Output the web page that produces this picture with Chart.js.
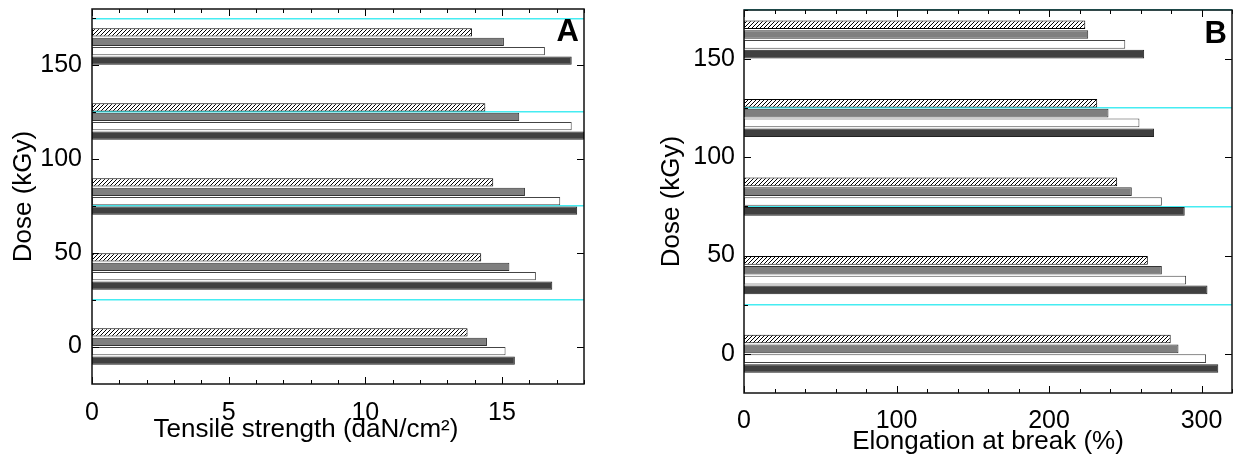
<!DOCTYPE html>
<html>
<head>
<meta charset="utf-8">
<script src="https://cdn.jsdelivr.net/npm/chart.js@4.4.1/dist/chart.umd.min.js"></script>
<style>
  html, body { margin: 0; padding: 0; background: #fff; }
  #wrap { position: relative; width: 1233px; height: 457px; overflow: hidden; }
  canvas { position: absolute; top: 0; }
  #chartA { left: 0; }
  #chartB { left: 616px; }
</style>
</head>
<body>
<div id="wrap">
  <canvas id="chartA" width="616" height="457"></canvas>
  <canvas id="chartB" width="617" height="457"></canvas>
</div>
<script>
// ── Data ─────────────────────────────────────────────
const doses = [0, 40, 80, 120, 160];          // kGy
const doseTicks = [0, 50, 100, 150];          // labelled y ticks
const lineTicks = [25, 75, 125, 175];         // cyan lines

const seriesNames = ['Series 1', 'Series 2', 'Series 3', 'Series 4'];

// tensile strength (daN/cm2), one value per dose
const tensileHatched = [13.74, 14.24, 14.68, 14.39, 13.90];
const tensileGray    = [14.45, 15.27, 15.84, 15.63, 15.07];
const tensileWhite   = [15.13, 16.24, 17.13, 17.55, 16.57];
const tensileDark    = [15.47, 16.84, 17.75, 18.00, 17.55];

// elongation at break (%)
const elongHatched = [279.8, 264.8, 244.7, 231.6, 223.8];
const elongGray    = [284.9, 274.0, 254.3, 239.0, 225.7];
const elongWhite   = [303.0, 289.9, 274.0, 259.3, 250.0];
const elongDark    = [311.0, 303.9, 289.0, 268.9, 262.4];

const FONT = 'Arial, "Liberation Sans", sans-serif';

// ── Hatch pattern ────────────────────────────────────
function hatch() {
    const c = document.createElement('canvas');
    c.width = 4; c.height = 4;
    const g = c.getContext('2d');
    g.fillStyle = '#fff';
    g.fillRect(0, 0, 4, 4);
    g.strokeStyle = '#000';
    g.lineWidth = 1;
    g.beginPath();
    g.moveTo(0, 4); g.lineTo(4, 0);
    g.moveTo(-1, 1); g.lineTo(1, -1);
    g.moveTo(3, 5); g.lineTo(5, 3);
    g.stroke();
    return g.createPattern(c, 'repeat');
}

// ── Frame, inner ticks, panel letter, x title ───────
const frameTicks = {
    id: 'frameTicks',
    afterDatasetsDraw(chart, args, opts) {
        const { ctx, chartArea: { left, right, top, bottom }, scales: { x, y } } = chart;
        ctx.save();
        ctx.strokeStyle = '#000';
        ctx.lineWidth = 1;
        ctx.beginPath();
        x.ticks.forEach(t => {
            const px = Math.round(x.getPixelForValue(t.value)) + 0.5;
            const len = t.value % opts.xMajor === 0 ? 7 : 4;
            ctx.moveTo(px, bottom); ctx.lineTo(px, bottom - len);
            ctx.moveTo(px, top); ctx.lineTo(px, top + len);
        });
        y.ticks.forEach(t => {
            const py = Math.round(y.getPixelForValue(t.value)) + 0.5;
            if (doseTicks.includes(t.value)) {
                ctx.moveTo(left, py); ctx.lineTo(left + 7, py);
                ctx.moveTo(right, py); ctx.lineTo(right - 7, py);
            } else {
                ctx.moveTo(left, py); ctx.lineTo(left + 4, py);
            }
        });
        ctx.stroke();
        ctx.lineWidth = 1.5;
        ctx.strokeStyle = '#111';
        ctx.strokeRect(left, top, right - left, bottom - top);
        ctx.fillStyle = '#000';
        ctx.font = 'bold 31px ' + FONT;
        ctx.textAlign = 'right';
        ctx.textBaseline = 'middle';
        ctx.fillText(opts.letter, right - 5, top + opts.letterDy);
        // x axis title (not centred on the plot in the original)
        ctx.font = opts.titleSize + 'px ' + FONT;
        ctx.textAlign = 'center';
        ctx.fillText(opts.title, (left + right) / 2 + opts.titleDx, chart.height - opts.titleDy);
        ctx.restore();
    }
};

// ── Build one panel ──────────────────────────────────
function buildPanel(id, cfg) {
    const ctx = document.getElementById(id);
    const styles = [
        { bg: hatch(), border: '#000' },
        { bg: '#7f7f7f', border: '#333' },
        { bg: '#ffffff', border: '#444' },
        { bg: '#404040', border: '#222' }
    ];
    return new Chart(ctx, {
        type: 'bar',
        data: {
            datasets: cfg.series.map((vals, i) => ({
                label: seriesNames[i],
                data: vals.map((v, j) => ({ x: v, y: doses[j] })),
                backgroundColor: styles[i].bg,
                borderColor: styles[i].border,
                borderWidth: 1,
                borderSkipped: false,
                categoryPercentage: 0.8,
                barPercentage: 0.88
            }))
        },
        options: {
            indexAxis: 'y',
            responsive: false,
            animation: false,
            layout: { padding: cfg.padding },
            plugins: {
                legend: { display: false },
                tooltip: { enabled: false },
                frameTicks: {
                    letter: cfg.letter, xMajor: cfg.xMajor, letterDy: cfg.letterDy,
                    title: cfg.xTitle, titleSize: cfg.xTitleSize, titleDx: cfg.xTitleDx, titleDy: cfg.xTitleDy
                }
            },
            scales: {
                x: {
                    type: 'linear',
                    min: 0, max: cfg.xMax,
                    grid: { display: false },
                    border: { display: false },
                    ticks: {
                        stepSize: cfg.xStep,
                        autoSkip: false,
                        maxRotation: 0,
                        padding: cfg.xTickPad,
                        color: '#000',
                        font: { family: FONT, size: 25 },
                        callback: v => v % cfg.xMajor === 0 ? v : ''
                    },
                    afterFit: s => { s.height = cfg.xHeight; s.paddingLeft = 0; s.paddingRight = 0; }
                },
                y: {
                    type: 'linear',
                    offset: false,
                    min: -20, max: cfg.yMax,
                    afterBuildTicks: s => {
                        s.ticks = doseTicks.concat(lineTicks).sort((a, b) => a - b).map(v => ({ value: v }));
                    },
                    grid: {
                        offset: false,
                        drawTicks: false,
                        lineWidth: 1.5,
                        color: c => (c.tick && lineTicks.includes(c.tick.value)) ? '#45ecf2' : 'rgba(0,0,0,0)'
                    },
                    border: { display: false },
                    ticks: {
                        autoSkip: false,
                        padding: cfg.yTickPad,
                        color: '#000',
                        font: { family: FONT, size: 25 },
                        callback: v => doseTicks.includes(v) ? v : ''
                    },
                    title: {
                        display: true,
                        text: 'Dose (kGy)',
                        color: '#000',
                        font: { family: FONT, size: 26 },
                        padding: { top: cfg.yTitlePad, bottom: 0 }
                    },
                    afterFit: s => { s.width = cfg.yWidth; s.paddingTop = 0; s.paddingBottom = 0; }
                }
            }
        },
        plugins: [frameTicks]
    });
}

buildPanel('chartA', {
    series: [tensileHatched, tensileGray, tensileWhite, tensileDark],
    letter: 'A', letterDy: 23,
    xMax: 18, xStep: 1, xMajor: 5,
    yMax: 180,
    xTitle: 'Tensile strength (daN/cm²)', xTitleSize: 26, xTitleDx: -32, xTitleDy: 27,
    padding: { left: 0, right: 32, top: 9, bottom: 0 },
    xHeight: 73, yWidth: 92,
    xTickPad: 6, yTickPad: 10,
    yTitlePad: 8
});

buildPanel('chartB', {
    series: [elongHatched, elongGray, elongWhite, elongDark],
    letter: 'B', letterDy: 24,
    xMax: 320, xStep: 20, xMajor: 100,
    yMax: 175,
    xTitle: 'Elongation at break (%)', xTitleSize: 26, xTitleDx: 0, xTitleDy: 15,
    padding: { left: 0, right: 1, top: 10, bottom: 0 },
    xHeight: 64, yWidth: 128,
    xTickPad: 5, yTickPad: 9,
    yTitlePad: 40
});
</script>
</body>
</html>
